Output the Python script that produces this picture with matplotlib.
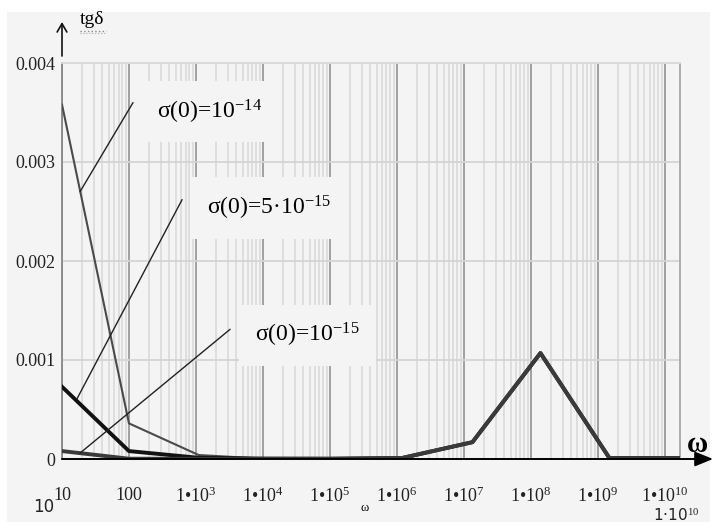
import matplotlib
matplotlib.use("Agg")
import matplotlib.pyplot as plt
import numpy as np
from matplotlib.ticker import LogLocator, FixedLocator, NullFormatter
from matplotlib.patches import Rectangle

plt.rcParams['font.family'] = ['Liberation Serif', 'DejaVu Serif']
plt.rcParams['mathtext.fontset'] = 'custom'
plt.rcParams['mathtext.rm'] = 'Liberation Serif'
plt.rcParams['mathtext.it'] = 'Liberation Serif:italic'
plt.rcParams['mathtext.bf'] = 'Liberation Serif:bold'

# omega grid
omega = [10, 100, 1.1e3, 1e4, 1e5, 1.2e6, 1.35e7, 1.4e8, 1.5e9, 1.7e10]

# tg(delta) for the three sigma(0) values
tg_14 = [0.00358, 0.00036, 0.00004, 0.000004, 0.000003, 0.00001, 0.00017, 0.00107, 0.00001, 0.00001]
tg_5 = [0.00073, 0.00008, 0.000012, 0.000004, 0.000003, 0.00001, 0.00017, 0.00107, 0.00001, 0.00001]
tg_1 = [0.00008, 0.000003, 0.000002, 0.000002, 0.000002, 0.00001, 0.00017, 0.00107, 0.00001, 0.00001]

xticks = [10, 100, 1e3, 1e4, 1e5, 1e6, 1e7, 1e8, 1e9, 1e10]
xlabels = ['10', '100', '1•10$^{3}$', '1•10$^{4}$', '1•10$^{5}$', '1•10$^{6}$',
           '1•10$^{7}$', '1•10$^{8}$', '1•10$^{9}$', '1•10$^{10}$']
yticks = [0, 0.001, 0.002, 0.003, 0.004]
ylabels = ['0', '0.001', '0.002', '0.003', '0.004']

bg = '#f4f4f4'
W, H = 714, 522

fig = plt.figure(figsize=(7.14, 5.22), dpi=100, facecolor='white')
fig.patches.append(Rectangle((7 / W, 0), (710 - 7) / W, 1 - 12 / H,
                             transform=fig.transFigure, fc=bg, ec='none', zorder=-10))

ax = fig.add_axes([62 / W, 1 - 459 / H, (680 - 62) / W, (459 - 63) / H])
ax.set_facecolor(bg)
ax.set_xscale('log')
ax.set_xlim(10, 1.7e10)
ax.set_ylim(0, 0.004)

ax.xaxis.set_major_locator(FixedLocator(xticks))
ax.set_xticklabels(xlabels)
ax.xaxis.set_minor_locator(LogLocator(base=10, subs=np.arange(2, 10), numticks=20))
ax.xaxis.set_minor_formatter(NullFormatter())
ax.set_yticks(yticks)
ax.set_yticklabels(ylabels)
ax.tick_params(axis='both', which='both', length=0, labelsize=13, colors='#222')
ax.tick_params(axis='x', pad=20)
ax.tick_params(axis='y', pad=5)

ax.grid(True, axis='x', which='minor', color='#dcdcdc', lw=1.3, zorder=0)
ax.grid(True, axis='x', which='major', color='#9a9a9a', lw=1.3, zorder=0)
ax.grid(True, axis='y', which='major', color='#d4d4d4', lw=1.3, zorder=0)
ax.set_axisbelow(True)

ax.spines['left'].set_color('#888')
ax.spines['right'].set_color('#a8a8a8')
ax.spines['top'].set_color('#dadada')
ax.spines['bottom'].set_visible(False)
for s in ['left', 'right', 'top']:
    ax.spines[s].set_linewidth(1.3)

ax.plot(omega, tg_14, color='#4a4a4a', lw=1.5, zorder=3)
ax.plot(omega, tg_5, color='#111111', lw=2.8, zorder=4)
ax.plot(omega, tg_1, color='#3a3a3a', lw=2.8, zorder=5)

# leader lines and labels
lead = dict(arrowstyle='-', color='#222', lw=1.0, shrinkA=0, shrinkB=0)
ax.annotate('', xy=(18.6, 0.0027), xytext=(115, 0.0036), arrowprops=lead, zorder=6)
ax.annotate('', xy=(16.8, 0.00061), xytext=(622, 0.00262), arrowprops=lead, zorder=6)
ax.annotate('', xy=(18.6, 0.00006), xytext=(3240, 0.00131), arrowprops=lead, zorder=6)

box = dict(boxstyle='square,pad=0.7', fc=bg, ec='none')
ax.text(263, 0.00351, 'σ(0)=10$^{-14}$', fontsize=17, va='center', ha='left',
        bbox=box, zorder=5)
ax.text(1470, 0.002535, 'σ(0)=5·10$^{-15}$', fontsize=17, va='center', ha='left',
        bbox=box, zorder=5)
ax.text(7670, 0.00125, 'σ(0)=10$^{-15}$', fontsize=17, va='center', ha='left',
        bbox=box, zorder=5)

# x axis arrow
ax.annotate('', xy=(1 + 33 / 618, 0), xytext=(0, 0), xycoords='axes fraction',
            arrowprops=dict(arrowstyle='-|>,head_length=1.1,head_width=0.45',
                            color='black', lw=1.4, shrinkA=0, shrinkB=0),
            annotation_clip=False, zorder=7)
fig.text(698 / W, 1 - 444 / H, 'ω', fontsize=21, fontweight='bold',
         ha='center', va='center')

# y axis arrow and name
ax.annotate('', xy=(62, H - 22), xytext=(62, H - 56), xycoords='figure pixels',
            arrowprops=dict(arrowstyle='->,head_length=0.6,head_width=0.35',
                            color='#111', lw=1.2, shrinkA=0, shrinkB=0),
            annotation_clip=False)
fig.text(80 / W, 1 - 20 / H, 'tgδ', fontsize=14, ha='left', va='center')
fig.add_artist(plt.Line2D([80 / W, 106 / W], [1 - 31 / H, 1 - 31 / H],
                          color='#888', lw=1.0, ls=':', transform=fig.transFigure))
fig.add_artist(plt.Line2D([80 / W, 106 / W], [1 - 33 / H, 1 - 33 / H],
                          color='#aaa', lw=0.8, ls=':', transform=fig.transFigure))

# range marks of the original plot
fig.text(365 / W, 1 - 508 / H, 'ω', fontsize=9, ha='center', va='center')
fig.text(44 / W, 1 - 507 / H, '10', fontsize=12, family='DejaVu Sans',
         ha='center', va='center', color='#222')
fig.text(676 / W, 1 - 515 / H, '1·10$^{10}$', fontsize=11, family='DejaVu Sans',
         ha='center', va='center', color='#222')

fig.savefig('out.png', dpi=100, facecolor='white')
